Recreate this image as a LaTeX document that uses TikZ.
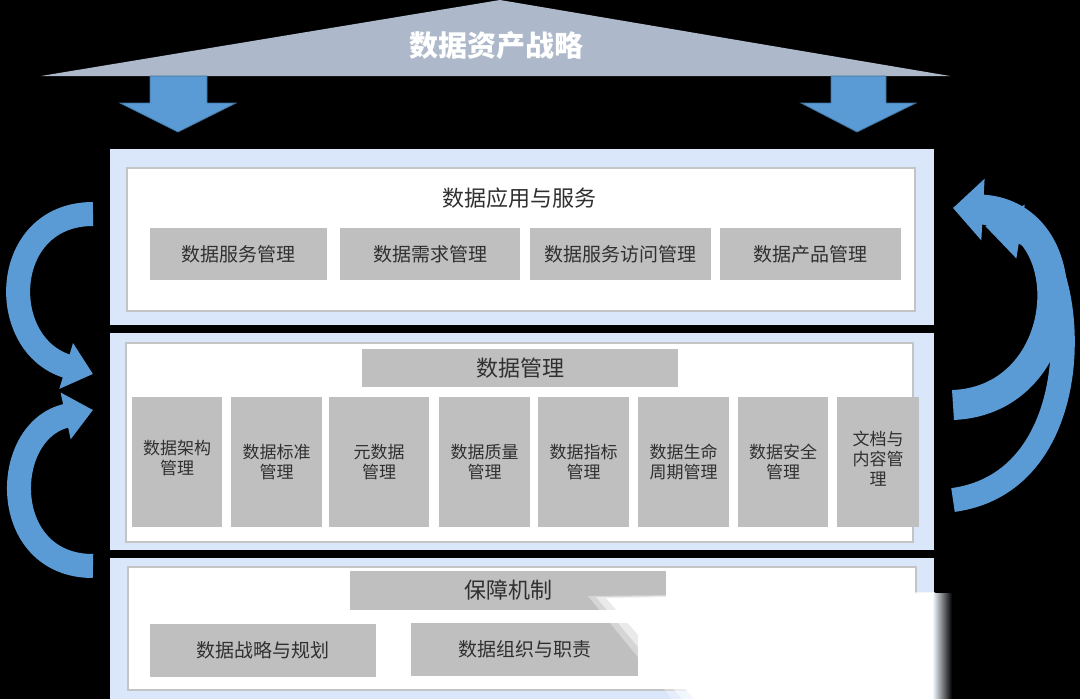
\documentclass[tikz,border=0pt]{standalone}
\usepackage{fontspec}
\setmainfont{Noto Sans CJK SC}
\usetikzlibrary{arrows.meta}
\definecolor{panelblue}{HTML}{DAE6FA}
\definecolor{boxgray}{HTML}{BFBFBF}
\definecolor{bordergray}{HTML}{C4C4C4}
\definecolor{roofgray}{HTML}{ADB9CA}
\definecolor{arrowblue}{HTML}{5B9BD5}
\definecolor{arrowedge}{HTML}{41719C}
\definecolor{txt}{HTML}{303030}
\begin{document}
\begin{tikzpicture}[x=1pt,y=-1pt,
  panel/.style={fill=panelblue,draw=none},
  inner/.style={fill=white,draw=bordergray,line width=2.5pt},
  gbox/.style={fill=boxgray,draw=none,inner sep=0pt,text=txt},
  t19/.style={font=\fontsize{19}{22}\selectfont},
  t22/.style={font=\fontsize{22}{26}\selectfont},
  col/.style={gbox,minimum height=130pt,align=center,font=\fontsize{17}{20}\selectfont},
  coltext/.style={text=txt,align=center,font=\fontsize{17}{20}\selectfont,inner sep=0pt},
  downarrow/.style={fill=arrowblue,draw=arrowedge,line width=0.8pt},
  curvearrow/.style={draw=arrowblue,line width=24pt,-{Triangle[width=46pt,length=28pt]}}
]
\useasboundingbox (0,0) rectangle (1080,699);
\fill[black] (0,0) rectangle (1080,699);

% roof
\fill[roofgray] (41,76) -- (500,0) -- (950,76) -- cycle;
\node[text=white,font=\bfseries\fontsize{29}{32}\selectfont] (roof) at (496,46) {数据资产战略};

% down arrows
\draw[downarrow] (150,76) -- (207,76) -- (207,103) -- (236,103) -- (178,132) -- (120,103) -- (150,103) -- cycle;
\draw[downarrow] (831,76) -- (886,76) -- (886,103) -- (916,103) -- (857,132) -- (801,103) -- (831,103) -- cycle;

% panels
\fill[panel] (110,149) rectangle (934,325);
\fill[panel] (110,333) rectangle (934,550);
\fill[panel] (110,558) rectangle (934,699);
\draw[inner] (127,168) rectangle (915,311);
\draw[inner] (126,343) rectangle (913,542);
\draw[inner] (128,567) rectangle (916,690);

% panel 1
\node[text=txt,t22] (t1) at (519.5,198) {数据应用与服务};
\node[gbox,t19,minimum width=177pt,minimum height=52pt] (s1) at (238.5,254) {数据服务管理};
\node[gbox,t19,minimum width=180pt,minimum height=52pt] (s2) at (430,254) {数据需求管理};
\node[gbox,t19,minimum width=181pt,minimum height=52pt] (s3) at (620.5,254) {数据服务访问管理};
\node[gbox,t19,minimum width=181pt,minimum height=52pt] (s4) at (810.5,254) {数据产品管理};

% panel 2
\node[gbox,t22,minimum width=316pt,minimum height=38pt] (t2) at (520,368) {数据管理};
\node[col,minimum width=90pt] (c1) at (177,462) {};
\node[col,minimum width=91pt] (c2) at (276.5,462) {};
\node[col,minimum width=100pt] (c3) at (379,462) {};
\node[col,minimum width=91pt] (c4) at (484.5,462) {};
\node[col,minimum width=91pt] (c5) at (583.5,462) {};
\node[col,minimum width=91pt] (c6) at (683.5,462) {};
\node[col,minimum width=90pt] (c7) at (783,462) {};
\node[col,minimum width=82pt] (c8) at (878,462) {};
\node[coltext] (c1t) at (177,458) {数据架构\\管理};
\node[coltext] (c2t) at (276.5,462) {数据标准\\管理};
\node[coltext] (c3t) at (379,462) {元数据\\管理};
\node[coltext] (c4t) at (484.5,462) {数据质量\\管理};
\node[coltext] (c5t) at (583.5,462) {数据指标\\管理};
\node[coltext] (c6t) at (683.5,462) {数据生命\\周期管理};
\node[coltext] (c7t) at (783,462) {数据安全\\管理};
\node[coltext] (c8t) at (878,459) {文档与\\内容管\\理};

% panel 3
\node[gbox,t22,minimum width=316pt,minimum height=39pt] (t3) at (508,590.5) {保障机制};
\node[gbox,t19,minimum width=226pt,minimum height=53pt] (g1) at (263,650.5) {数据战略与规划};
\node[gbox,t19,minimum width=227pt,minimum height=53pt] (g2) at (524.5,649.5) {数据组织与职责};

% white smudge over lower right
\fill[white,opacity=0.35] (588,596) -- (935,592) -- (935,699) -- (672,699) -- cycle;
\fill[white,opacity=0.5] (596,597) -- (935,592) -- (935,699) -- (682,699) -- cycle;
\fill[white] (606,598) -- (935,593) -- (935,699) -- (694,699) -- cycle;
\shade[left color=white!60!panelblue,right color=black] (933,593) rectangle (952,699);

% curved arrows
\coordinate (la1s) at (93,214);
\coordinate (la1e) at (93,374);
\coordinate (la2s) at (93,566);
\coordinate (la2e) at (93,410);
\coordinate (ra1s) at (953,405);
\coordinate (ra1e) at (953,208);
\coordinate (ra2s) at (953,500);
\coordinate (ra2e) at (985,226);
\draw[curvearrow] (la1s) .. controls (0,214) and (-4,345) .. (la1e);
\draw[curvearrow] (la2s) .. controls (-2,566) and (0,430) .. (la2e);
\draw[curvearrow,-{Triangle[width=52pt,length=36pt]}] (ra2s) .. controls (1100,480) and (1075,240) .. (ra2e);
\draw[curvearrow,line width=30pt,-{Triangle[width=60pt,length=30pt]}] (ra1s) .. controls (1075,400) and (1085,215) .. (ra1e);
\end{tikzpicture}
\end{document}
